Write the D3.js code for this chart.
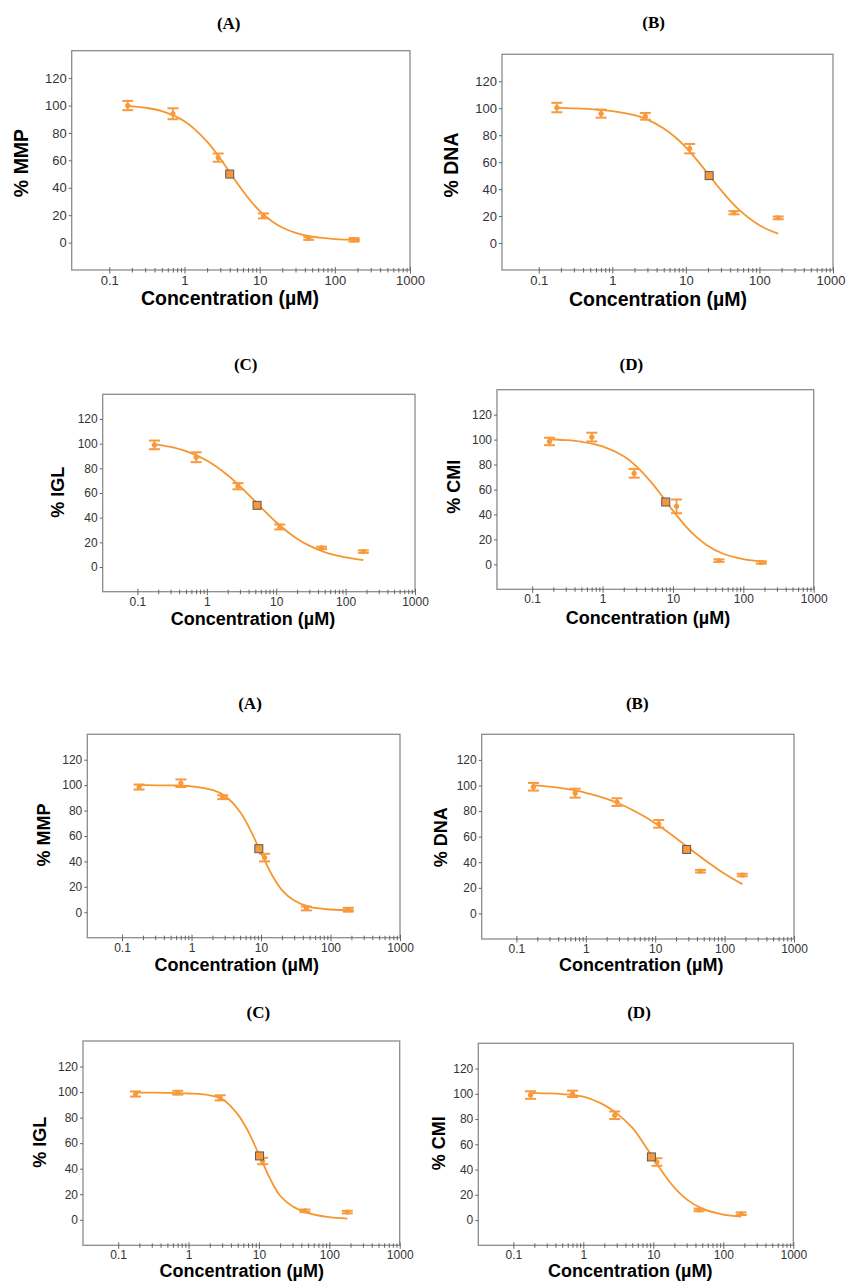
<!DOCTYPE html>
<html>
<head>
<meta charset="utf-8">
<script src="https://cdn.jsdelivr.net/npm/d3@7"></script>
<style>
  body { margin: 0; background: #fff; }
  text { font-family: "Liberation Sans", Arial, sans-serif; }
</style>
</head>
<body>
<svg id="chart" width="846" height="1284"></svg>
<script>
// dose series (µM), 4-fold dilutions
const doses = [0.176, 0.703, 2.81, 11.25, 45, 180];
const fitDosesLong = [0.17, 0.3, 0.5, 1, 2, 3, 5, 7, 10, 15, 20, 30, 50, 100, 215];
const fitDosesShort = [0.17, 0.3, 0.5, 1, 2, 3, 5, 7, 10, 15, 20, 30, 50, 100, 180];

const panelLetters = ["(A)", "(B)", "(C)", "(D)", "(A)", "(B)", "(C)", "(D)"];
const yLabels = ["% MMP", "% DNA", "% IGL", "% CMI", "% MMP", "% DNA", "% IGL", "% CMI"];
const xTicks = [0.1, 1, 10, 100, 1000];
const yTicks = [0, 20, 40, 60, 80, 100, 120];

// measured means and error bars
const meanMMP1 = [100, 94, 62, 19.5, 3, 2];
const errMMP1 = [3.4, 4, 3, 1.8, 1, 1.3];
const meanDNA1 = [100.5, 96, 94, 70, 22.5, 18.7];
const errDNA1 = [3.5, 3, 2.5, 3.5, 1.2, 1];
const meanIGL1 = [99, 89, 65.5, 32.5, 15.5, 12.5];
const errIGL1 = [3.5, 4, 2.5, 2, 1, 1];
const meanCMI1 = [98.5, 102, 73, 46.5, 3, 1.5];
const errCMI1 = [3, 3.5, 3.5, 5.5, 1, 1];
const meanMMP2 = [98.5, 101.5, 90.5, 43, 3, 2];
const errMMP2 = [2, 3, 1.5, 3, 1.5, 1.5];
const meanDNA2 = [99, 94, 87, 70, 33, 30];
const errDNA2 = [3, 3.5, 3, 3, 1, 1];
const meanIGL2 = [98.5, 99.5, 95.5, 46, 7, 6];
const errIGL2 = [2, 1.5, 2, 2.5, 1, 1];
const meanCMI2 = [99, 100, 83, 46, 8, 5];
const errCMI2 = [3, 2.5, 3, 3, 1, 1];

// fitted curves
const fitMMP1 = [99.8, 98.4, 95.9, 88.5, 73.7, 61.2, 43.5, 32.7, 23.1, 15.0, 11.0, 7.1, 4.3, 2.6, 1.9];
const fitDNA1 = [100.2, 99.9, 99.4, 97.9, 94.8, 91.5, 85.0, 79.0, 70.9, 59.8, 51.3, 39.2, 25.9, 13.2, 7.0];
const fitIGL1 = [99.7, 97.3, 93.9, 86.3, 74.4, 65.5, 53, 44.7, 36.3, 28, 23, 17.3, 12.1, 7.8, 5.7];
const fitCMI1 = [100.3, 99.6, 98.3, 94.6, 86.6, 78.8, 65.3, 54.7, 43.1, 30.9, 23.6, 15.6, 8.9, 4.1, 1.8];
const fitMMP2 = [100.0, 99.9, 99.8, 99.1, 96.2, 91.6, 78.9, 64.8, 46.7, 27.5, 17.5, 9.2, 4.2, 2.2, 1.6];
const fitDNA2 = [100.3, 99.1, 97.5, 94.3, 89.6, 85.9, 80.1, 75.7, 70.4, 63.8, 58.8, 51.5, 42.4, 31.0, 22.9];
const fitIGL2 = [99.5, 99.5, 99.4, 98.9, 97.5, 94.5, 82.5, 69.4, 51.1, 30.2, 18.8, 10.5, 5.2, 2.0, 0.9];
const fitCMI2 = [100.8, 100.4, 99.8, 97.7, 91, 84.5, 73.2, 62.1, 48.9, 34.5, 25.7, 16.4, 9.0, 4.3, 2.7];

// IC50 (µM) at 50 %
const ic50 = [4.0, 20.7, 5.3, 7.9, 9.3, 28.4, 10.2, 9.4];

const means = [meanMMP1, meanDNA1, meanIGL1, meanCMI1, meanMMP2, meanDNA2, meanIGL2, meanCMI2];
const errs = [errMMP1, errDNA1, errIGL1, errCMI1, errMMP2, errDNA2, errIGL2, errCMI2];
const fits = [fitMMP1, fitDNA1, fitIGL1, fitCMI1, fitMMP2, fitDNA2, fitIGL2, fitCMI2];
const fitDoses = [fitDosesLong, fitDosesShort, fitDosesShort, fitDosesLong,
                  fitDosesLong, fitDosesShort, fitDosesShort, fitDosesShort];

// layout for each panel: frame box, title, axis-label positions
const layout = [
  {l: 71.7, t: 50.7, r: 410, b: 270, tx: 228.7, ty: 22.7, xlx: 230, xly: 298, ylx: 21, yly: 163, fs: 19.5, tfs: 13},
  {l: 502, t: 54.3, r: 833, b: 270, tx: 653.7, ty: 22, xlx: 658, xly: 299, ylx: 451, yly: 165, fs: 19.5, tfs: 13},
  {l: 102.7, t: 394.3, r: 415, b: 591.7, tx: 245.7, ty: 364.3, xlx: 253, xly: 618.3, ylx: 57.3, yly: 492.3, fs: 18, tfs: 12},
  {l: 497, t: 389.7, r: 813.7, b: 589.3, tx: 631.3, ty: 364.3, xlx: 648, xly: 617.7, ylx: 453.7, yly: 486.7, fs: 18, tfs: 12},
  {l: 87.3, t: 734.3, r: 400, b: 937.7, tx: 250, ty: 703.3, xlx: 236.7, xly: 965, ylx: 43.7, yly: 835, fs: 18, tfs: 12},
  {l: 481.7, t: 734.3, r: 794, b: 939, tx: 637.3, ty: 703.3, xlx: 641.3, xly: 965, ylx: 440.3, yly: 837.3, fs: 18, tfs: 12},
  {l: 83, t: 1041, r: 399.7, b: 1245.3, tx: 258.3, ty: 1011.7, xlx: 241.7, xly: 1271, ylx: 40, yly: 1142.3, fs: 18, tfs: 12},
  {l: 478.3, t: 1043.3, r: 793.3, b: 1245.3, tx: 639, ty: 1011.7, xlx: 630.3, xly: 1271, ylx: 438.7, yly: 1143.3, fs: 18, tfs: 12}
];

const orange = "#f89a3c";
const lineOrange = "#f7962f";

// minor log ticks 2..9 per decade
let minorTicks = [];
[0.1, 1, 10, 100].forEach(dec => {
  for (let k = 2; k <= 9; k++) minorTicks.push(dec * k);
});

const svg = d3.select("#chart");
svg.append("rect").attr("width", 846).attr("height", 1284).attr("fill", "#fff");

layout.forEach((p, i) => {
  let g = svg.append("g");

  let x = d3.scaleLog().domain([Math.pow(10, -1.5), 1000]).range([p.l, p.r]);
  let y = d3.scaleLinear().domain([-20, 140]).range([p.b, p.t]);

  // title
  g.append("text")
    .attr("x", p.tx).attr("y", p.ty)
    .attr("dy", "0.35em")
    .attr("text-anchor", "middle")
    .style("font-family", "'Liberation Serif', 'Times New Roman', serif")
    .style("font-weight", "bold")
    .style("font-size", "17px")
    .text(panelLetters[i]);

  // frame
  g.append("rect")
    .attr("x", p.l).attr("y", p.t)
    .attr("width", p.r - p.l).attr("height", p.b - p.t)
    .attr("fill", "none")
    .attr("stroke", "#8c8c8c")
    .attr("stroke-width", 1.3);

  // y axis
  let yAxis = g.append("g")
    .attr("transform", `translate(${p.l},0)`)
    .call(d3.axisLeft(y).tickValues(yTicks).tickSize(3).tickPadding(2));
  yAxis.select(".domain").remove();
  yAxis.selectAll("line").attr("stroke", "#666");
  yAxis.selectAll("text")
    .style("font-size", p.tfs + "px")
    .attr("fill", "#333");

  // x axis, minor ticks
  let xMinor = g.append("g")
    .attr("transform", `translate(0,${p.b})`)
    .call(d3.axisBottom(x).tickValues(minorTicks).tickSize(2.5).tickFormat(""));
  xMinor.select(".domain").remove();
  xMinor.selectAll("line").attr("y1", -2).attr("stroke", "#666");

  // x axis, major ticks
  let xAxis = g.append("g")
    .attr("transform", `translate(0,${p.b})`)
    .call(d3.axisBottom(x).tickValues(xTicks).tickSize(3.5).tickPadding(2)
      .tickFormat(d => d3.format("~g")(d)));
  xAxis.select(".domain").remove();
  xAxis.selectAll("line").attr("y1", -3).attr("stroke", "#666");
  xAxis.selectAll("text")
    .style("font-size", p.tfs + "px")
    .attr("fill", "#333")
    .each(function(d) {
      // keep the last label inside the page
      let right = x(d) + this.getComputedTextLength() / 2;
      if (right > 845) d3.select(this).attr("dx", 845 - right);
    });

  // axis titles
  g.append("text")
    .attr("x", p.xlx).attr("y", p.xly)
    .attr("dy", "0.35em")
    .attr("text-anchor", "middle")
    .style("font-weight", "bold")
    .style("font-size", p.fs + "px")
    .text("Concentration (µM)");

  g.append("text")
    .attr("transform", `translate(${p.ylx},${p.yly}) rotate(-90)`)
    .attr("dy", "0.35em")
    .attr("text-anchor", "middle")
    .style("font-weight", "bold")
    .style("font-size", p.fs + "px")
    .text(yLabels[i]);

  // fitted curve
  let fitData = fitDoses[i].map((c, j) => ({c: c, v: fits[i][j]}));
  let line = d3.line()
    .x(d => x(d.c))
    .y(d => y(d.v))
    .curve(d3.curveCatmullRom);
  g.append("path")
    .datum(fitData)
    .attr("d", line)
    .attr("fill", "none")
    .attr("stroke", lineOrange)
    .attr("stroke-width", 1.8);

  // error bars
  let pts = doses.map((c, j) => ({c: c, v: means[i][j], e: errs[i][j]}));
  let bars = g.selectAll("g.bar")
    .data(pts)
    .enter()
    .append("g")
    .classed("bar", true);

  bars.append("line")
    .attr("x1", d => x(d.c)).attr("x2", d => x(d.c))
    .attr("y1", d => y(d.v - d.e)).attr("y2", d => y(d.v + d.e))
    .attr("stroke", orange).attr("stroke-width", 1.8);
  bars.append("line")
    .attr("x1", d => x(d.c) - 5.5).attr("x2", d => x(d.c) + 5.5)
    .attr("y1", d => y(d.v + d.e)).attr("y2", d => y(d.v + d.e))
    .attr("stroke", orange).attr("stroke-width", 2);
  bars.append("line")
    .attr("x1", d => x(d.c) - 5.5).attr("x2", d => x(d.c) + 5.5)
    .attr("y1", d => y(d.v - d.e)).attr("y2", d => y(d.v - d.e))
    .attr("stroke", orange).attr("stroke-width", 2);
  bars.append("circle")
    .attr("cx", d => x(d.c)).attr("cy", d => y(d.v))
    .attr("r", 2.6)
    .attr("fill", orange);

  // IC50 marker
  g.append("rect")
    .attr("x", x(ic50[i]) - 4).attr("y", y(50) - 4)
    .attr("width", 8).attr("height", 8)
    .attr("fill", "#f5973a")
    .attr("stroke", "#5a5a5a")
    .attr("stroke-width", 1);
});
</script>
</body>
</html>
